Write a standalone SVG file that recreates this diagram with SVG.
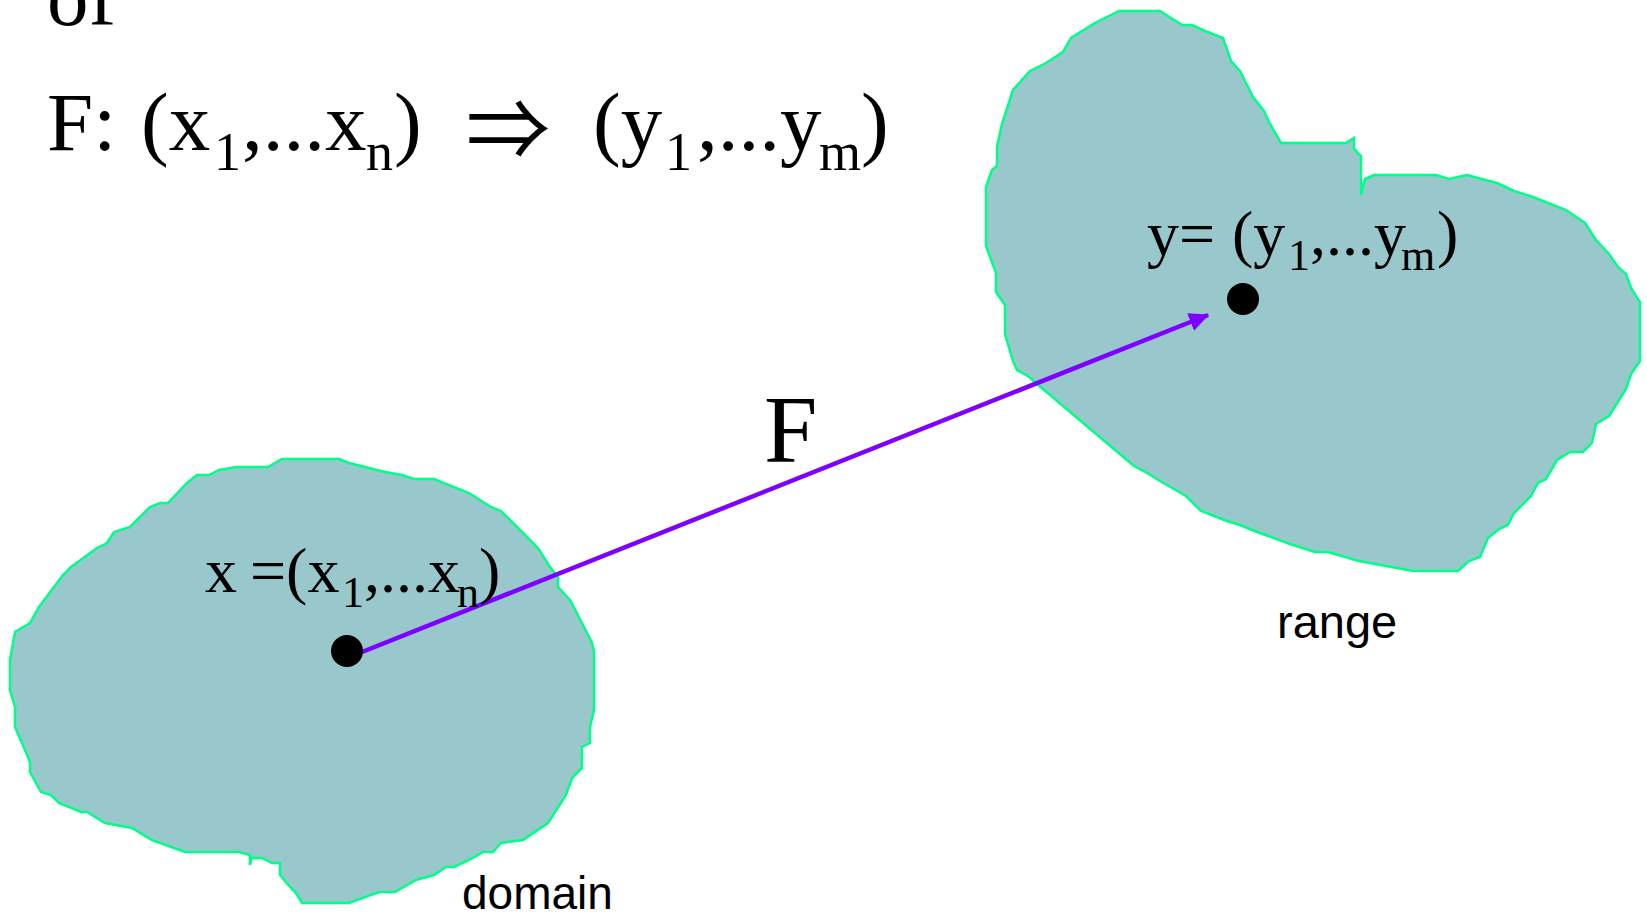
<svg xmlns="http://www.w3.org/2000/svg" width="1647" height="914" viewBox="0 0 1647 914">
<style>
.blob{fill:#98C8CC;stroke:#00FF88;stroke-width:2.5;stroke-linejoin:miter}
.serif{font-family:"Liberation Serif","Times New Roman","DejaVu Serif",serif;fill:#000}
.sans{font-family:"Liberation Sans",Arial,sans-serif;fill:#000}
.big{font-size:83px}
.bigsub{font-size:54px}
.lab{font-size:64px}
.labsub{font-size:44px}
.dot{fill:#000}
.conn{stroke:#8000FF;stroke-width:4.5;fill:none}
</style>
<defs>
<marker id="ah" markerUnits="userSpaceOnUse" markerWidth="20" markerHeight="20" viewBox="0 0 16 16" refX="15" refY="8" orient="auto">
<path d="M0,0.5 L16,8 L0,15.5 Z" fill="#8000FF"/>
</marker>
</defs>
<rect width="1647" height="914" fill="#FFFFFF"/>
<g id="domain">
<path class="blob" d="M282,459 L339,459 349,463 385,472 402,475 414,479 434,479 469,493 491,507 501,511 515,525 538,548 550,567 558,577 558,587 570,600 582,623 592,643 594,652 594,710 590,727 590,743 582,747 582,768 572,778 566,795 548,823 523,840 501,843 493,852 483,852 473,858 454,867 446,867 434,875 416,880 395,892 379,892 349,903 302,903 296,893 290,887 280,875 280,863 272,863 262,858 252,858 250,865 250,855 239,852 185,852 152,840 132,828 105,823 87,812 81,812 59,803 51,795 41,792 30,772 30,762 22,743 15,727 15,707 10,690 10,660 15,632 30,623 39,607 63,575 71,567 97,548 107,543 114,532 130,527 150,507 160,503 168,503 187,483 197,475 209,475 219,470 237,467 268,467 Z"/>
<text class="sans" x="462" y="909" font-size="46">domain</text>
</g>
<g id="range">
<path class="blob" d="M1119,11 L1160,11 1182,25 1192,25 1205,31 1223,38 1231,61 1240,71 1253,97 1264,111 1270,124 1281,143 1346,143 1354,138 1354,149 1361,156 1361,195 1365,179 1374,175 1436,175 1449,179 1467,175 1497,183 1514,191 1533,197 1566,210 1585,223 1596,240 1609,254 1618,267 1626,274 1631,288 1640,302 1640,361 1631,374 1626,389 1609,416 1596,424 1592,443 1583,452 1570,452 1557,460 1546,479 1538,483 1531,496 1514,513 1508,525 1499,529 1488,538 1480,557 1469,561 1458,571 1413,571 1359,561 1328,552 1315,552 1290,544 1257,532 1240,525 1227,521 1201,511 1186,496 1160,481 1147,473 1134,466 1095,433 1037,384 1028,376 1017,370 1013,361 1005,334 1005,305 996,292 996,273 986,246 986,187 992,170 997,166 997,147 1002,124 1013,90 1030,71 1046,63 1063,52 1071,38 1095,23 Z"/>
<text class="sans" x="1277" y="638" font-size="47">range</text>
</g>
<g id="connectors">
<line class="conn" x1="362" y1="652" x2="1208" y2="315" marker-end="url(#ah)"/>
<text class="serif" x="764" y="462" font-size="96">F</text>
</g>
<g id="point-x">
<circle class="dot" cx="347" cy="651" r="16"/>
<text class="serif lab" y="592"><tspan x="205">x</tspan><tspan x="250">=(x</tspan><tspan class="labsub" x="342" y="607">1</tspan><tspan x="364" y="592">,...x</tspan><tspan class="labsub" x="457" y="607">n</tspan><tspan x="479" y="592">)</tspan></text>
</g>
<g id="point-y">
<circle class="dot" cx="1243" cy="299" r="16"/>
<text class="serif lab" y="255"><tspan x="1147">y=</tspan><tspan x="1232">(y</tspan><tspan class="labsub" x="1288" y="270">1</tspan><tspan x="1310" y="255">,...y</tspan><tspan class="labsub" x="1401" y="270">m</tspan><tspan x="1437" y="255">)</tspan></text>
</g>
<g id="title">
<text class="serif big" x="47" y="25">of</text>
<text class="serif big" y="150"><tspan x="47">F:</tspan><tspan x="141">(x</tspan><tspan class="bigsub" x="214" y="170">1</tspan><tspan x="242" y="150">,...x</tspan><tspan class="bigsub" x="366" y="170">n</tspan><tspan x="394" y="150">)</tspan><tspan x="593">(y</tspan><tspan class="bigsub" x="665" y="170">1</tspan><tspan x="697" y="150">,...y</tspan><tspan class="bigsub" x="819" y="170">m</tspan><tspan x="861" y="150">)</tspan></text>
<text x="466" y="160" font-size="84" font-family="'Noto Sans CJK JP','DejaVu Serif',sans-serif" fill="#000">⇒</text>
</g>
</svg>
